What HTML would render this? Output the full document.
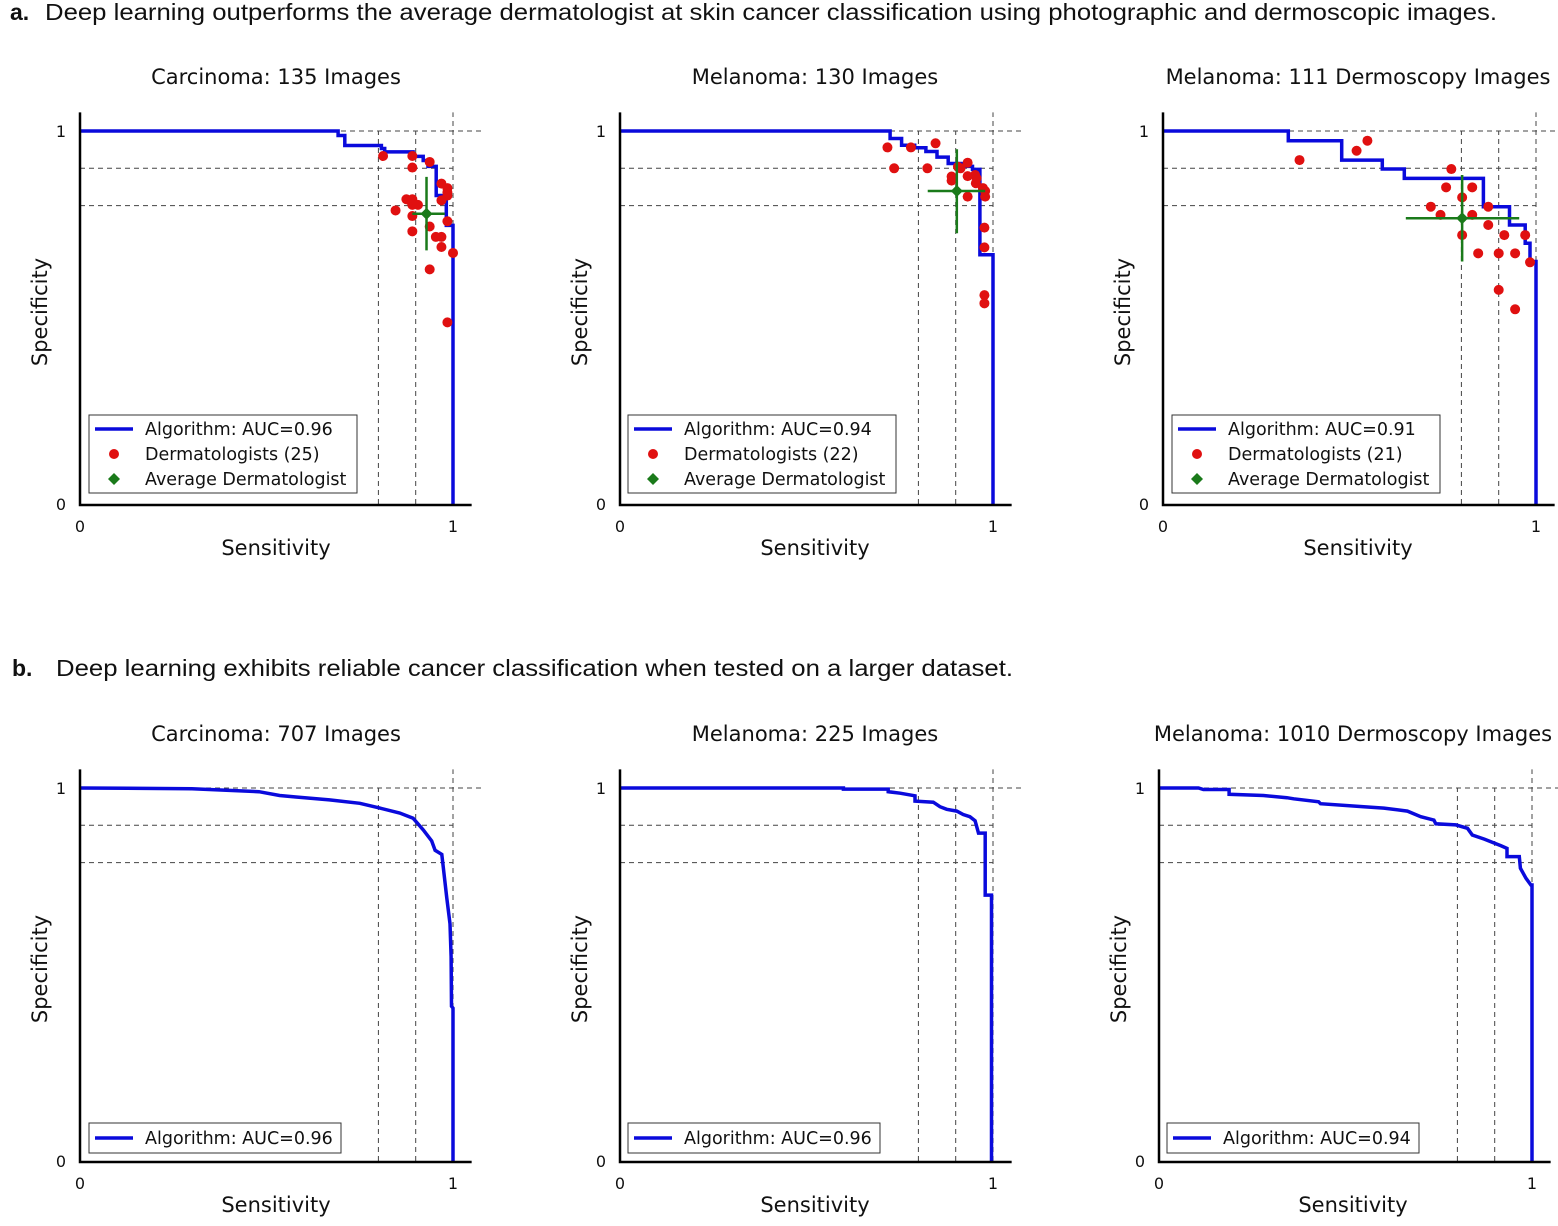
<!DOCTYPE html>
<html><head><meta charset="utf-8">
<style>
body{margin:0;background:#fff;}
svg text{font-family:"DejaVu Sans","Liberation Sans",sans-serif;fill:#111;}
.hdr{font-family:"Liberation Sans",sans-serif;font-size:23px;}
</style></head>
<body>
<svg id="fig" width="1558" height="1221" viewBox="0 0 1558 1221" xmlns="http://www.w3.org/2000/svg">
<text class="hdr" x="10" y="20" font-weight="bold">a.</text>
<text class="hdr" x="45" y="20" textLength="1452" lengthAdjust="spacingAndGlyphs">Deep learning outperforms the average dermatologist at skin cancer classification using photographic and dermoscopic images.</text>
<text class="hdr" x="12" y="676" font-weight="bold">b.</text>
<text class="hdr" x="56" y="676" textLength="957" lengthAdjust="spacingAndGlyphs">Deep learning exhibits reliable cancer classification when tested on a larger dataset.</text>
</svg>
<script>
// ---- data ----
const titles = ["Carcinoma: 135 Images","Melanoma: 130 Images","Melanoma: 111 Dermoscopy Images","Carcinoma: 707 Images","Melanoma: 225 Images","Melanoma: 1010 Dermoscopy Images"];
const aucLabels = ["Algorithm: AUC=0.96","Algorithm: AUC=0.94","Algorithm: AUC=0.91","Algorithm: AUC=0.96","Algorithm: AUC=0.96","Algorithm: AUC=0.94"];
const dermCounts = ["Dermatologists (25)","Dermatologists (22)","Dermatologists (21)"];
const xTicks = [0,1];
const yTicks = [0,1];
const refLines = [0.8,0.9];
// step curves (sensitivity, specificity) for panel a
const curveA1 = [[0,1],[0.692,1],[0.692,0.988],[0.71,0.988],[0.71,0.961],[0.808,0.961],[0.808,0.953],[0.817,0.953],[0.817,0.944],[0.893,0.944],[0.893,0.932],[0.92,0.932],[0.92,0.921],[0.933,0.921],[0.933,0.905],[0.955,0.905],[0.955,0.827],[0.982,0.827],[0.982,0.747],[1,0.747],[1,0]];
const curveA2 = [[0,1],[0.724,1],[0.724,0.98],[0.755,0.98],[0.755,0.962],[0.79,0.962],[0.79,0.955],[0.82,0.955],[0.82,0.945],[0.85,0.945],[0.85,0.93],[0.88,0.93],[0.88,0.913],[0.93,0.913],[0.93,0.905],[0.945,0.905],[0.945,0.897],[0.965,0.897],[0.965,0.668],[1,0.668],[1,0]];
const curveA3 = [[0,1],[0.336,1],[0.336,0.974],[0.479,0.974],[0.479,0.922],[0.588,0.922],[0.588,0.898],[0.647,0.898],[0.647,0.873],[0.859,0.873],[0.859,0.797],[0.929,0.797],[0.929,0.748],[0.971,0.748],[0.971,0.699],[0.984,0.699],[0.984,0.65],[1,0.65],[1,0]];
const curveB1 = [[0,1],[0.3,0.998],[0.48,0.99],[0.535,0.98],[0.579,0.976],[0.669,0.968],[0.75,0.959],[0.804,0.946],[0.857,0.933],[0.893,0.919],[0.92,0.888],[0.943,0.858],[0.952,0.833],[0.97,0.822],[0.974,0.787],[0.983,0.707],[0.992,0.636],[0.995,0.548],[0.996,0.415],[1,0.41],[1,0]];
const curveB2 = [[0,1],[0.599,1],[0.599,0.997],[0.719,0.997],[0.719,0.99],[0.751,0.986],[0.791,0.979],[0.791,0.965],[0.84,0.962],[0.858,0.95],[0.876,0.943],[0.903,0.938],[0.92,0.929],[0.938,0.923],[0.952,0.912],[0.961,0.879],[0.979,0.879],[0.979,0.713],[0.996,0.713],[0.996,0]];
const curveB3 = [[0,1],[0.106,1],[0.119,0.996],[0.188,0.996],[0.188,0.983],[0.28,0.98],[0.343,0.974],[0.361,0.971],[0.428,0.963],[0.433,0.958],[0.549,0.95],[0.603,0.946],[0.666,0.938],[0.702,0.923],[0.737,0.914],[0.742,0.904],[0.796,0.901],[0.827,0.892],[0.84,0.874],[0.872,0.863],[0.917,0.845],[0.933,0.838],[0.933,0.816],[0.966,0.816],[0.969,0.785],[0.984,0.758],[0.997,0.74],[1,0.74],[1,0]];
// dermatologist points
const dermA1Sens = [0.8125,0.891,0.9375,0.891,0.969,0.985,0.985,0.969,0.875,0.891,0.906,0.891,0.846,0.891,0.9375,0.985,0.891,0.954,0.969,0.969,1.0,0.9375,0.985,0.884,0.985];
const dermA1Spec = [0.933,0.933,0.917,0.902,0.859,0.847,0.827,0.814,0.817,0.817,0.802,0.802,0.787,0.772,0.744,0.758,0.731,0.716,0.716,0.689,0.673,0.629,0.487,0.814,0.836];
const dermA2Sens = [0.717,0.78,0.846,0.735,0.824,0.932,0.913,0.889,0.889,0.932,0.952,0.954,0.979,0.932,0.979,0.977,0.977,0.977,0.977,0.956,0.906,0.973];
const dermA2Spec = [0.956,0.956,0.967,0.9,0.9,0.915,0.9,0.878,0.867,0.879,0.882,0.86,0.839,0.824,0.824,0.741,0.688,0.56,0.538,0.873,0.904,0.847];
const dermA3Sens = [0.366,0.519,0.548,0.773,0.759,0.829,0.802,0.718,0.744,0.829,0.872,0.872,0.915,0.971,0.802,0.845,0.9,0.944,0.984,0.9,0.944];
const dermA3Spec = [0.922,0.947,0.974,0.898,0.849,0.849,0.822,0.797,0.775,0.775,0.797,0.748,0.721,0.721,0.721,0.672,0.672,0.672,0.648,0.574,0.522];
// average dermatologist: [sens, spec, sensLo, sensHi, specLo, specHi]
const avgA1 = [0.929,0.778,0.891,0.978,0.68,0.877];
const avgA2 = [0.903,0.839,0.825,0.979,0.726,0.951];
const avgA3 = [0.802,0.766,0.651,0.955,0.65,0.882];

const NS="http://www.w3.org/2000/svg";
const svg=document.getElementById('fig');
function mk(tag,attrs,parent,txt){const e=document.createElementNS(NS,tag);for(const k in attrs)e.setAttribute(k,attrs[k]);if(txt!==undefined)e.textContent=txt;(parent||svg).appendChild(e);return e;}

const U=373;
const panels=[
 {x0:80,y0:504,curve:curveA1,ds:dermA1Sens,dp:dermA1Spec,avg:avgA1,tx:276,ty:84,lx:89},
 {x0:620,y0:504,curve:curveA2,ds:dermA2Sens,dp:dermA2Spec,avg:avgA2,tx:815,ty:84,lx:628},
 {x0:1163,y0:504,curve:curveA3,ds:dermA3Sens,dp:dermA3Spec,avg:avgA3,tx:1358,ty:84,lx:1172},
 {x0:80,y0:1161,curve:curveB1,tx:276,ty:741,lx:89},
 {x0:620,y0:1161,curve:curveB2,tx:815,ty:741,lx:628},
 {x0:1159,y0:1161,curve:curveB3,tx:1353,ty:741,lx:1167}
];
const dash={stroke:'#444','stroke-width':1,'stroke-dasharray':'5,4'};
panels.forEach((p,i)=>{
  const sx=v=>p.x0+v*U, sy=v=>p.y0-v*U;
  const g=mk('g',{});
  
  
  const t=mk('text',{x:p.tx,y:p.ty,'text-anchor':'middle','font-size':21},g,titles[i]);
  
  
  refLines.forEach(r=>{
    const h=mk('line',Object.assign({x1:sx(0),x2:sx(1),y1:sy(r),y2:sy(r)},dash),g);
    
    
    const v=mk('line',Object.assign({x1:sx(r),x2:sx(r),y1:sy(0),y2:sy(1)},dash),g);
    
    
  });
  const t1=mk('line',Object.assign({x1:sx(0),x2:sx(1.08),y1:sy(1),y2:sy(1)},dash),g);
  
  
  const r1=mk('line',Object.assign({x1:sx(1),x2:sx(1),y1:sy(0),y2:sy(1.05)},dash),g);
  
  
  const d=p.curve.map((q,j)=>(j?'L':'M')+sx(q[0]).toFixed(1)+','+sy(q[1]).toFixed(1)).join(' ');
  const c=mk('path',{d:d,fill:'none',stroke:'#0a0adc','stroke-width':3.5},g);
  
  
  if(p.ds){
    p.ds.forEach((s,j)=>{
      const dot=mk('circle',{cx:sx(s),cy:sy(p.dp[j]),r:5,fill:'#e01010'},g);
      
      
    });
    const a=p.avg;
    const eb=mk('g',{stroke:'#1a7a1a','stroke-width':2.5},g);
    
    
    mk('line',{x1:sx(a[2]),x2:sx(a[3]),y1:sy(a[1]),y2:sy(a[1])},eb);
    mk('line',{x1:sx(a[0]),x2:sx(a[0]),y1:sy(a[4]),y2:sy(a[5])},eb);
    const cx=sx(a[0]),cy=sy(a[1]);
    const dm=mk('polygon',{points:`${cx},${cy-6} ${cx+6},${cy} ${cx},${cy+6} ${cx-6},${cy}`,fill:'#1a7a1a'},g);
    
    
  }
  const ax=mk('path',{d:`M${sx(0)},${sy(1.05)} V${p.y0+1} H${sx(1.05)}`,fill:'none',stroke:'#000','stroke-width':2.5},g);
  
  
  xTicks.forEach(v=>{
    const tl=mk('text',{x:sx(v),y:p.y0+28,'text-anchor':'middle','font-size':16},g,String(v));
    
    
  });
  yTicks.forEach(v=>{
    const tl=mk('text',{x:p.x0-14,y:sy(v)+6,'text-anchor':'end','font-size':16},g,String(v));
    
    
  });
  const xl=mk('text',{x:p.tx,y:p.y0+51,'text-anchor':'middle','font-size':21},g,'Sensitivity');
  
  
  const yc=p.y0-192, yx=p.x0-33;
  const yl=mk('text',{x:yx,y:yc,'text-anchor':'middle','font-size':21,transform:`rotate(-90 ${yx} ${yc})`},g,'Specificity');
  
  
  const lg=mk('g',{},g);
  
  
  if(p.ds){
    const top=p.y0-89;
    mk('rect',{x:p.lx,y:top,width:268,height:78,fill:'#fff',stroke:'#333','stroke-width':1},lg);
    mk('line',{x1:p.lx+6,x2:p.lx+44,y1:top+14,y2:top+14,stroke:'#0a0adc','stroke-width':3.5},lg);
    mk('text',{x:p.lx+56,y:top+20,'font-size':17.5},lg,aucLabels[i]);
    mk('circle',{cx:p.lx+25,cy:top+39,r:5,fill:'#e01010'},lg);
    mk('text',{x:p.lx+56,y:top+45,'font-size':17.5},lg,dermCounts[i]);
    mk('polygon',{points:`${p.lx+25},${top+58} ${p.lx+31},${top+64} ${p.lx+25},${top+70} ${p.lx+19},${top+64}`,fill:'#1a7a1a'},lg);
    mk('text',{x:p.lx+56,y:top+70,'font-size':17.5},lg,'Average Dermatologist');
  } else {
    const top=p.y0-38;
    mk('rect',{x:p.lx,y:top,width:252,height:30,fill:'#fff',stroke:'#333','stroke-width':1},lg);
    mk('line',{x1:p.lx+6,x2:p.lx+44,y1:top+15,y2:top+15,stroke:'#0a0adc','stroke-width':3.5},lg);
    mk('text',{x:p.lx+56,y:top+21,'font-size':17.5},lg,aucLabels[i]);
  }
});
</script>
</body></html>
